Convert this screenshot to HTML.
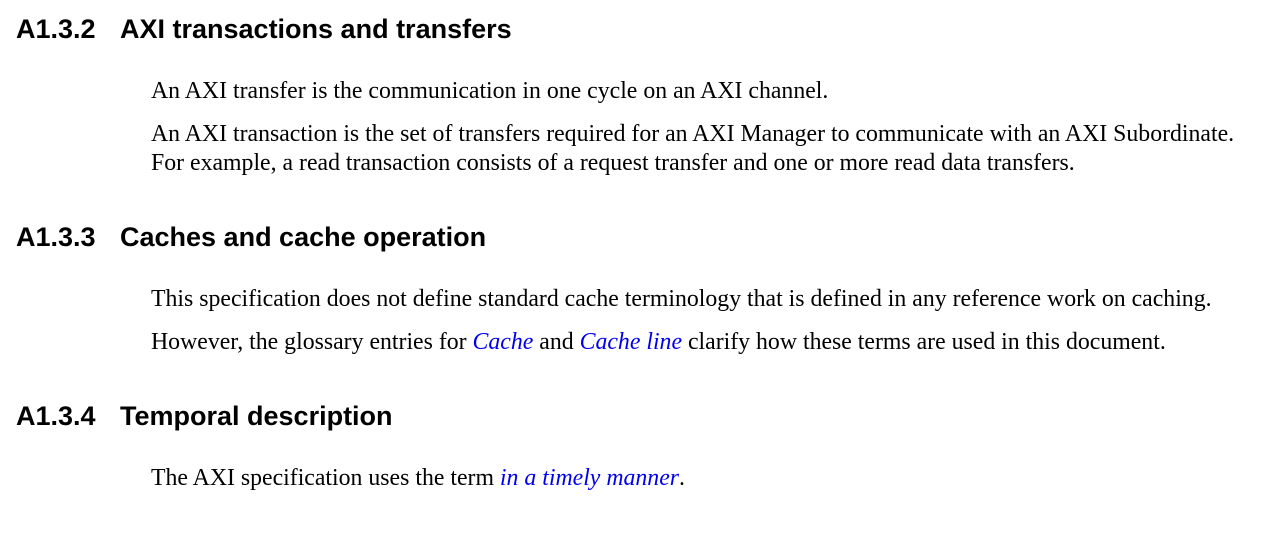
<!DOCTYPE html>
<html><head><meta charset="utf-8"><style>
body{margin:0;width:1277px;height:556px;background:#fff;position:relative;overflow:hidden}
.h{position:absolute;font-family:"Liberation Sans",sans-serif;font-weight:bold;font-size:27px;line-height:30px;color:#000;white-space:nowrap}
.h span{position:absolute;left:104px}
.p{position:absolute;left:151px;font-family:"Liberation Serif",serif;font-size:23.8px;line-height:29px;color:#000;white-space:nowrap}
.l{color:#0000ee;font-style:italic}
</style></head><body>
<div class="h" style="left:16px;top:14px">A1.3.2<span>AXI transactions and transfers</span></div>
<div class="p" style="top:77px">An AXI transfer is the communication in one cycle on an AXI channel.</div>
<div class="p" style="top:120px">An AXI transaction is the set of transfers required for an AXI Manager to communicate with an AXI Subordinate.</div>
<div class="p" style="top:149px">For example, a read transaction consists of a request transfer and one or more read data transfers.</div>
<div class="h" style="left:16px;top:222px">A1.3.3<span>Caches and cache operation</span></div>
<div class="p" style="top:285px">This specification does not define standard cache terminology that is defined in any reference work on caching.</div>
<div class="p" style="top:328px">However, the glossary entries for <span class="l">Cache</span> and <span class="l">Cache line</span> clarify how these terms are used in this document.</div>
<div class="h" style="left:16px;top:401px">A1.3.4<span>Temporal description</span></div>
<div class="p" style="top:464px">The AXI specification uses the term <span class="l">in a timely manner</span>.</div>
</body></html>
